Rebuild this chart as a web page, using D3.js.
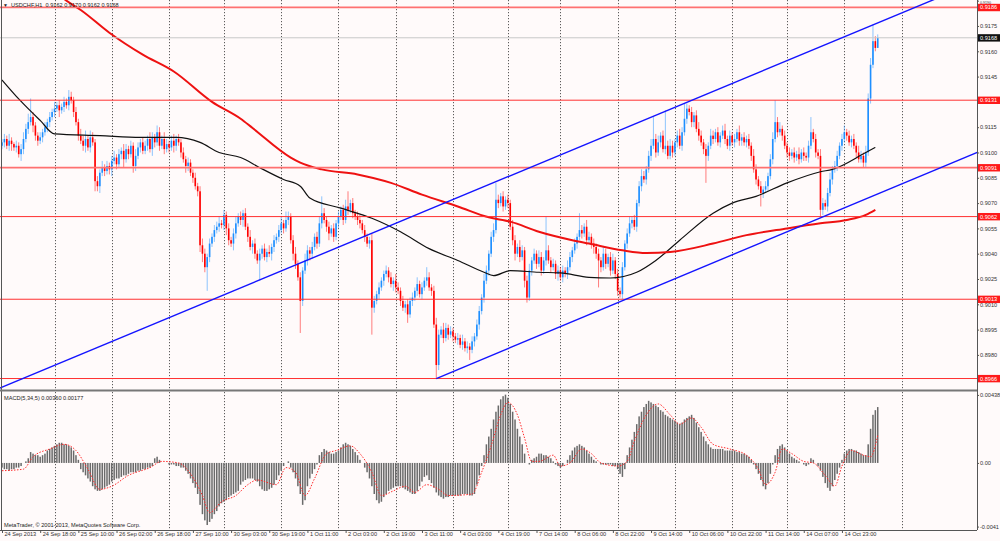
<!DOCTYPE html>
<html>
<head>
<meta charset="utf-8">
<title>USDCHF,H1</title>
<style>
body { margin: 0; background: #fffafa; }
svg { display: block; font-family: "Liberation Sans", Arial, sans-serif; }
</style>
</head>
<body>
<svg id="chart" width="1000" height="541"></svg>
<script src="https://cdnjs.cloudflare.com/ajax/libs/d3/7.8.5/d3.min.js"></script>
<script>

// ---- data (prices in pips above 0.9000, macd in units of 0.0001) ----
var symbol = "USDCHF,H1";
var firstOpen = 104;

var closes = [
  106,108,104,107,105,103,104,99,102,108,
  114,118,121,116,110,107,109,112,115,118,
  121,124,126,128,125,127,130,128,133,131,
  124,118,110,107,104,108,103,109,106,83,
  80,88,91,89,92,90,95,97,93,99,
  101,96,102,99,104,92,98,103,106,101,
  104,108,102,109,106,112,104,108,102,105,
  103,107,104,108,106,100,96,92,94,88,
  85,80,77,45,40,32,38,46,50,54,
  56,58,57,63,55,48,46,52,58,62,
  60,64,56,50,44,46,40,36,40,43,
  38,41,40,44,48,50,54,58,55,60,
  62,48,40,34,26,12,30,36,42,40,
  44,50,46,58,64,60,56,52,55,50,
  58,62,66,60,68,66,70,64,62,60,
  58,54,50,46,48,8,12,16,20,24,
  28,30,26,22,24,20,18,12,8,10,
  4,12,14,18,22,16,20,24,26,20,
  18,-2,-26,-8,-5,-10,-4,-8,-6,-9,
  -11,-10,-14,-12,-16,-15,-17,-12,-9,-2,
  6,14,24,30,40,50,54,72,70,74,
  68,72,70,56,48,40,44,38,42,24,
  14,30,36,40,34,38,30,36,42,36,
  32,34,28,30,26,30,28,32,38,42,
  46,50,54,52,56,48,50,46,44,40,
  36,32,40,34,38,30,36,28,18,16,
  32,46,52,58,60,56,70,80,86,84,
  90,98,104,108,100,106,110,102,104,98,
  104,100,106,110,104,112,120,126,124,118,
  122,114,110,106,102,98,104,110,108,112,
  106,110,113,108,104,110,106,108,112,107,
  109,106,108,104,98,90,84,80,76,78,
  80,86,96,108,118,112,114,110,104,100,
  98,100,97,99,96,100,98,97,104,112,
  108,100,98,66,70,68,76,84,90,92,
  98,104,108,112,110,106,108,104,100,96,
  98,94,100,132,152,166,162,168
];

// wick length above body top / below body bottom
var upWick = [
  2,3,2,4,2,1,3,2,3,4, 3,5,11,3,2,2,3,2,3,2, 3,2,4,2,3,2,3,2,4,3, 2,3,2,4,3,5,2,4,3,2,
  3,2,4,2,3,2,3,4,2,3, 2,4,3,2,3,2,4,3,2,3, 3,2,4,3,2,4,3,2,4,3, 2,3,4,2,3,2,3,2,3,2,
  2,3,2,3,4,3,2,3,2,3, 3,4,2,3,2,3,2,3,4,2, 3,2,3,2,4,2,3,2,3,2, 3,2,4,2,3,2,3,4,2,5,
  3,2,3,4,2,3,2,4,3,2, 3,2,3,4,10,3,2,3,2,3, 2,3,2,3,4,9,2,3,2,3, 3,2,3,2,2,4,3,2,3,2,
  2,3,2,3,2,4,3,2,3,2, 3,2,3,2,4,2,3,2,6,3, 2,3,4,3,2,4,3,2,3,2, 2,3,2,4,2,3,2,3,2,3,
  3,2,4,3,2,3,4,10,3,2, 3,2,3,2,4,3,2,4,3,2, 3,4,2,3,2,4,3,2,20,3, 2,3,2,3,2,3,2,4,3,2,
  3,2,10,3,2,4,3,2,3,2, 3,2,4,3,2,3,4,2,3,2, 3,2,3,4,2,3,2,3,4,3, 2,3,4,13,3,4,2,3,21,3,
  4,3,2,3,4,3,9,3,2,3, 2,3,4,3,2,3,2,4,3,2, 3,2,3,4,2,3,2,3,2,4, 2,3,2,3,2,4,3,2,3,2,
  3,2,3,4,13,3,4,2,3,2, 3,2,3,2,4,2,3,2,3,9, 2,3,2,4,3,2,3,4,2,3, 3,2,3,4,2,3,2,3,2,4,
  3,2,4,3,4,10,3,2
];
var downWick = [
  2,3,2,3,4,2,3,2,4,3, 2,3,2,4,3,3,2,3,2,3, 3,2,3,2,4,2,3,2,3,2, 3,2,3,2,3,4,2,3,2,6,
  3,4,2,3,2,3,4,2,3,2, 3,5,2,3,2,4,3,2,3,2, 2,3,2,4,3,2,3,2,3,2, 3,2,4,3,2,3,2,4,3,2,
  3,2,3,4,5,3,14,3,2,3, 2,3,2,3,4,3,2,4,3,2, 3,4,2,3,2,4,3,2,12,3, 2,3,2,4,3,2,3,2,3,2,
  3,2,4,3,2,19,3,2,3,4, 3,2,3,2,3,2,3,4,2,3, 2,3,2,3,2,3,2,3,2,3, 3,2,3,2,3,16,3,2,3,2,
  3,2,3,2,4,3,2,3,2,3, 5,2,3,2,3,2,3,2,3,2, 3,2,8,3,2,3,2,3,2,3, 2,3,2,3,2,3,6,2,3,2,
  3,2,3,2,3,2,3,2,3,2, 3,2,3,2,3,4,2,3,2,4, 3,2,3,2,3,2,3,2,3,2, 3,2,3,4,2,3,2,3,2,3,
  2,3,2,3,2,3,2,3,4,3, 16,3,2,3,2,3,2,3,3,2, 3,2,3,2,3,2,3,2,3,2, 3,2,3,2,3,2,3,2,3,2,
  2,3,2,3,2,3,2,3,2,3, 3,2,3,2,3,16,3,2,3,2, 2,3,2,3,2,3,2,3,2,3, 3,2,3,2,3,2,3,2,8,3,
  2,3,2,3,2,3,2,3,2,3, 3,2,3,2,3,2,3,2,3,2, 2,3,2,4,3,2,3,2,3,2, 3,2,3,2,3,2,3,2,3,2,
  2,3,3,2,3,2,2,0
];

// moving averages: [bar, pips]
var blackMA = [[0,143],[7.5,131],[16,119],[22,111],[41,110],[58,109],[73,109],[83,106],
  [91,100],[100,97],[108,91],[118,84],[125,80],[129,73],[142,67],[155,61],[167,53],
  [179,43],[191,36],[202,29],[206,27],[213,30],[225,29],[234,28.6],[246,26],[255,25.6],
  [266,29],[274,36],[284,48],[298,64],[306,70],[316,74],[329,82],[343,88.6],[348,90],
  [362,100],[366,103]];
var redMA = [[0,222],[16,203],[27,190],[33,184.5],[45,171],[59,158],[72,148],[88,130],
  [100,120],[105,114.5],[121,97],[125,94],[134,90],[149,87],[163,82],[176,75],[191,68],
  [204,61.6],[213,59],[225,53],[239,48],[246,46],[260,42],[270,40.4],[280,41],[298,46],
  [312,51],[329,55],[343,58],[354,60],[362,63],[366,66]];

var macd = [
  -3,-4,-4,-5,-4,-4,-3,-3,-2,0,
  1,3,7,6,5,5,4,5,6,8,
  9,10,11,12,13,13,12,12,11,10,
  8,5,2,-4,-6,-8,-10,-12,-15,-17,
  -18,-18,-17,-16,-15,-14,-12,-11,-10,-10,
  -9,-8,-8,-7,-6,-6,-6,-5,-5,-4,
  -4,-3,-3,-2,3,4,2,0,0,0,
  -1,-1,-1,-2,-2,-3,-3,-5,-7,-10,
  -13,-16,-20,-27,-33,-37,-40,-38,-36,-33,
  -31,-28,-26,-25,-24,-22,-21,-20,-19,-18,
  -14,-12,-11,-10,-10,-10,-11,-12,-15,-17,
  -18,-18,-17,-16,-14,-11,-8,-5,-2,0,
  1,-3,-6,-10,-15,-20,-27,-24,-15,-10,
  -7,-4,-1,5,7,9,8,7,6,6,
  7,8,10,12,13,12,11,9,7,5,
  2,0,-3,-6,-10,-15,-20,-24,-26,-25,
  -22,-20,-18,-17,-16,-15,-15,-15,-16,-17,
  -18,-19,-20,-20,-18,-15,-12,-9,-8,-11,
  -13,-16,-19,-21,-22,-23,-22,-22,-21,-21,
  -21,-21,-21,-20,-20,-20,-21,-21,-20,-14,
  -8,-2,5,12,17,22,28,33,37,41,
  43,44,42,38,33,28,22,17,12,6,
  0,-1,2,3,4,6,6,5,5,4,
  3,1,-1,-2,-3,-2,0,2,5,8,
  10,11,12,11,10,8,6,4,2,1,
  0,-1,-1,-1,-1,-1,-2,-2,-4,-7,
  -9,-4,5,10,15,20,25,30,33,36,
  38,40,39,38,37,36,34,33,31,30,
  29,28,27,26,25,26,28,29,30,31,
  29,26,23,20,17,14,12,10,9,9,
  9,9,9,8,8,8,8,8,7,7,
  6,6,5,4,2,-1,-4,-7,-11,-15,
  -17,-13,-7,-1,5,9,11,12,10,8,
  6,4,3,2,1,0,-1,-2,-1,3,
  2,0,-2,-5,-9,-13,-16,-18,-15,-11,
  -7,-3,2,6,8,9,9,8,8,7,
  6,5,5,12,22,31,34,36
];
var signal = [[0,-5],[9,-4],[13,4],[20,9],[26,12],[31,8],[36,-4],[41,-17],[46,-15],[53,-8],
  [62,-3],[67,1],[74,0],[79,-7],[84,-21],[87,-32],[92,-25],[98,-21],[103,-14],[107,-11],
  [115,-14],[119,-3],[123,-6],[127,-21],[131,-10],[136,6],[140,8],[146,11],[150,6],
  [155,-6],[159,-21],[164,-18],[169,-15],[173,-19],[178,-14],[183,-17],[187,-21],
  [197,-20],[201,-6],[205,11],[209,31],[212,39],[216,31],[219,16],[222,1],[225,1],
  [231,5],[234,-2],[238,0],[243,9],[247,6],[251,0],[258,-2],[262,1],[265,14],[270,31],
  [275,38],[280,31],[284,25],[289,29],[293,23],[298,12],[305,9],[312,5],[317,-4],
  [320,-14],[324,-6],[327,9],[331,6],[336,1],[340,0],[345,-8],[349,-15],[352,-2],
  [356,8],[361,5],[364,4],[367,17.7]];

var levels = [0.9186, 0.9131, 0.9091, 0.9062, 0.9013, 0.8966];
var bidPrice = 0.9168;
var priceTicks = [0.8980, 0.8995, 0.9010, 0.9025, 0.9040, 0.9055, 0.9070, 0.9085,
  0.9100, 0.9115, 0.9130, 0.9145, 0.9160, 0.9175, 0.9190];
var macdTicks = [43.8, 0, -41];
var macdTickText = ["0.00438", "0.00", "-0.0041"];

// trend lines: [bar, price] anchors, drawn as rays from the first anchor
var trendLines = [
  [[-5, 0.89580], [368, 0.91774]],
  [[182, 0.8966], [368, 0.9076]]
];

var timeLabels = ["24 Sep 2013","24 Sep 18:00","25 Sep 10:00","26 Sep 02:00","26 Sep 18:00",
  "27 Sep 10:00","30 Sep 03:00","30 Sep 19:00","1 Oct 11:00","2 Oct 03:00","2 Oct 19:00",
  "3 Oct 11:00","4 Oct 03:00","4 Oct 19:00","7 Oct 14:00","8 Oct 06:00","8 Oct 22:00",
  "9 Oct 14:00","10 Oct 06:00","10 Oct 22:00","11 Oct 14:00","14 Oct 07:00","14 Oct 23:00"];
var labelStep = 16;
var dayStarts = [22, 46, 70, 93, 117, 141, 165, 189, 212, 234, 258, 282, 306, 329, 353, 377];

// ---- layout ----
var plotR = 977, mainBot = 390, macdTop = 392, macdBot = 530;
var fs = 5.6;

var svg = d3.select("#chart");
var x = d3.scaleLinear().domain([-0.84, 408.6]).range([0, plotR]);
var y = d3.scaleLinear().domain([0.89592, 0.91904]).range([mainBot, 0]);
var ym = d3.scaleLinear().domain([-43.2, 45.7]).range([macdBot, macdTop]);
function pr(v) { return 0.9 + v / 10000; }

svg.append("rect").attr("width", 1000).attr("height", 541).attr("fill", "#fffafa");

var defs = svg.append("defs");
defs.append("clipPath").attr("id", "clipMain").append("rect")
  .attr("x", 0).attr("y", 0).attr("width", plotR).attr("height", mainBot);
defs.append("clipPath").attr("id", "clipMacd").append("rect")
  .attr("x", 0).attr("y", macdTop).attr("width", plotR).attr("height", macdBot - macdTop);

// vertical grid (day separators)
var grid = svg.append("g");
[[0, mainBot], [macdTop, macdBot]].forEach(function(r) {
  grid.selectAll(null).data(dayStarts).enter().append("line")
    .attr("x1", function(d) { return Math.round(x(d)) + 0.5; })
    .attr("x2", function(d) { return Math.round(x(d)) + 0.5; })
    .attr("y1", r[0]).attr("y2", r[1])
    .attr("stroke", "#333").attr("stroke-width", 0.8).attr("stroke-dasharray", "1.2,1.8");
});

// ---- main panel ----
var main = svg.append("g").attr("clip-path", "url(#clipMain)");

var bars = closes.map(function(c, i) {
  var o = i === 0 ? firstOpen : closes[i - 1];
  return { i: i, o: o, c: c, h: Math.max(o, c) + upWick[i], l: Math.min(o, c) - downWick[i] };
});
function col(d) { return d.c >= d.o ? "#1e8fff" : "#ff0000"; }

main.selectAll(".wick").data(bars).enter().append("line")
  .attr("x1", function(d) { return x(d.i); }).attr("x2", function(d) { return x(d.i); })
  .attr("y1", function(d) { return y(pr(d.h)); }).attr("y2", function(d) { return y(pr(d.l)); })
  .attr("stroke", col).attr("stroke-opacity", 0.5).attr("stroke-width", 1);

main.selectAll(".body").data(bars).enter().append("rect")
  .attr("x", function(d) { return x(d.i) - 0.8; })
  .attr("width", 1.6)
  .attr("y", function(d) { return y(pr(Math.max(d.o, d.c))); })
  .attr("height", function(d) { return Math.max(0.8, Math.abs(y(pr(d.o)) - y(pr(d.c)))); })
  .attr("fill", col);

var maLine = d3.line().curve(d3.curveMonotoneX)
  .x(function(d) { return x(d[0]); }).y(function(d) { return y(pr(d[1])); });
main.append("path").attr("d", maLine(blackMA)).attr("fill", "none")
  .attr("stroke", "#111").attr("stroke-width", 1.2);
main.append("path").attr("d", maLine(redMA)).attr("fill", "none")
  .attr("stroke", "#ee1111").attr("stroke-width", 2);

// bid line
main.append("line").attr("x1", 0).attr("x2", plotR)
  .attr("y1", y(bidPrice)).attr("y2", y(bidPrice))
  .attr("stroke", "#c8c8c8").attr("stroke-width", 1);

// horizontal levels
var levelWidth = [1.8, 1, 1.8, 1, 1, 1];
var levelColor = ["#ff7070", "#ff3030", "#ff7070", "#ff3030", "#ff3030", "#ff3030"];
main.selectAll(".lvl").data(levels).enter().append("line")
  .attr("x1", 0).attr("x2", plotR)
  .attr("y1", function(d) { return y(d); }).attr("y2", function(d) { return y(d); })
  .attr("stroke", function(d, i) { return levelColor[i]; })
  .attr("stroke-width", function(d, i) { return levelWidth[i]; });

// trend lines extended as rays to the right
trendLines.forEach(function(t) {
  var a = t[0], b = t[1];
  var s = (b[1] - a[1]) / (b[0] - a[0]);
  var x1 = 420;
  main.append("line")
    .attr("x1", x(a[0])).attr("y1", y(a[1]))
    .attr("x2", x(x1)).attr("y2", y(a[1] + s * (x1 - a[0])))
    .attr("stroke", "#1414ff").attr("stroke-width", 1.4);
});

// ---- MACD panel ----
var mg = svg.append("g").attr("clip-path", "url(#clipMacd)");
mg.selectAll(".hist").data(macd).enter().append("rect")
  .attr("x", function(d, i) { return x(i) - 0.75; })
  .attr("width", 1.5)
  .attr("y", function(d) { return Math.min(ym(d), ym(0)); })
  .attr("height", function(d) { return Math.abs(ym(d) - ym(0)); })
  .attr("fill", "#6a6a6a");
var sigLine = d3.line().curve(d3.curveMonotoneX)
  .x(function(d) { return x(d[0]); }).y(function(d) { return ym(d[1]); });
mg.append("path").attr("d", sigLine(signal)).attr("fill", "none")
  .attr("stroke", "#ff2a2a").attr("stroke-width", 1).attr("stroke-dasharray", "1.5,1.5");

// ---- frames ----
var frame = svg.append("g").attr("stroke", "#555").attr("fill", "none");
frame.append("line").attr("x1", 1.5).attr("x2", 1.5).attr("y1", 0).attr("y2", macdBot);
frame.append("line").attr("x1", plotR + 0.5).attr("x2", plotR + 0.5).attr("y1", 0).attr("y2", macdBot);
frame.append("line").attr("x1", 0).attr("x2", plotR).attr("y1", mainBot + 0.5).attr("y2", mainBot + 0.5)
  .attr("stroke", "#777").attr("stroke-width", 2);
frame.append("line").attr("x1", 0).attr("x2", plotR).attr("y1", macdBot + 0.5).attr("y2", macdBot + 0.5);

// ---- axes ----
var yAxis = d3.axisRight(y).tickValues(priceTicks).tickFormat(d3.format(".4f"))
  .tickSize(2).tickPadding(1);
var ya = svg.append("g").attr("transform", "translate(" + plotR + ",0)").call(yAxis);
ya.select(".domain").remove();
ya.selectAll("text").attr("font-size", fs).attr("fill", "#333").attr("font-family", "Liberation Sans, Arial");
ya.selectAll("line").attr("stroke", "#555");
// top label squeezed above the 0.9186 box
ya.selectAll(".tick").filter(function(d) { return d === 0.9190; }).select("text")
  .attr("font-size", 3.6).attr("dy", "2.6px");

var mAxis = d3.axisRight(ym).tickValues(macdTicks)
  .tickFormat(function(d, i) { return macdTickText[i]; }).tickSize(2).tickPadding(1);
var ma = svg.append("g").attr("transform", "translate(" + plotR + ",0)").call(mAxis);
ma.select(".domain").remove();
ma.selectAll("text").attr("font-size", fs).attr("fill", "#333").attr("font-family", "Liberation Sans, Arial");
ma.selectAll("line").attr("stroke", "#555");

var labelBars = timeLabels.map(function(t, k) { return k * labelStep; });
var xAxis = d3.axisBottom(x).tickValues(labelBars)
  .tickFormat(function(d, i) { return timeLabels[i]; }).tickSize(3);
var xa = svg.append("g").attr("transform", "translate(0," + macdBot + ")").call(xAxis);
xa.select(".domain").remove();
xa.selectAll("line").attr("stroke", "#555");
xa.selectAll("text").attr("text-anchor", "start").attr("x", 2).attr("y", 2.3)
  .attr("font-size", fs).attr("fill", "#333").attr("font-family", "Liberation Sans, Arial");

// price boxes on the axis
function priceBox(p, fill) {
  var g = svg.append("g");
  g.append("rect").attr("x", plotR + 1).attr("y", y(p) - 3.6).attr("width", 22).attr("height", 7.4)
    .attr("fill", fill);
  g.append("text").attr("x", plotR + 3).attr("y", y(p) + 2).attr("font-size", fs)
    .attr("fill", "#fff").text(d3.format(".4f")(p));
}
levels.forEach(function(p) { priceBox(p, "#ff1a1a"); });
priceBox(bidPrice, "#111");

// ---- header texts ----
var last = bars[bars.length - 1];
svg.append("text").attr("x", 3).attr("y", 7).attr("font-size", 5).attr("fill", "#222").text("\u25BC");
svg.append("text").attr("x", 11).attr("y", 7).attr("font-size", fs).attr("fill", "#222")
  .attr("xml:space", "preserve")
  .text(symbol + "  " + [last.o, last.h, last.l, last.c].map(function(v) { return pr(v).toFixed(4); }).join(" "));
svg.append("text").attr("x", 4).attr("y", 400).attr("font-size", fs).attr("fill", "#222")
  .text("MACD(5,34,5) " + (macd[macd.length - 1] / 10000).toFixed(5) + " " +
        (signal[signal.length - 1][1] / 10000).toFixed(5));
svg.append("text").attr("x", 4).attr("y", 527).attr("font-size", fs).attr("fill", "#222")
  .text("MetaTrader, \u00A9 2001-2013, MetaQuotes Software Corp.");

</script>
</body>
</html>
